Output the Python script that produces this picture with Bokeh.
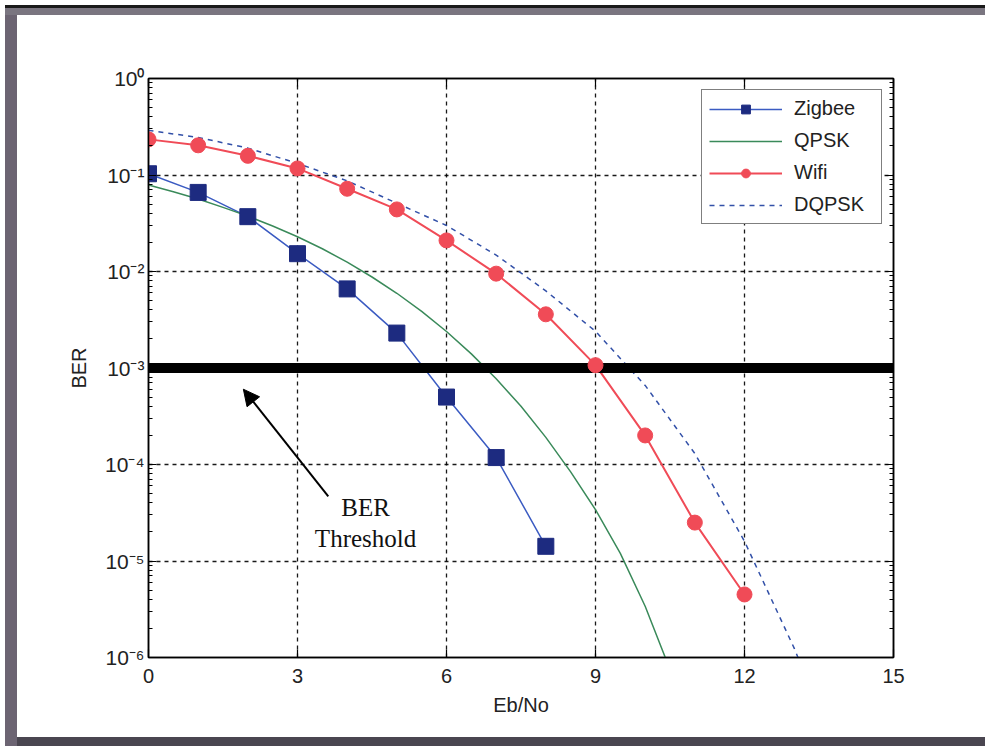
from bokeh.plotting import figure
from bokeh.models import (LogAxis, LinearAxis, FixedTicker, Arrow, NormalHead, Label,
                          CustomJSTickFormatter)
from bokeh.embed import file_html
from bokeh.resources import INLINE

# ---------------- data ----------------
zigbee_x = [0, 1, 2, 3, 4, 5, 6, 7, 8]
zigbee_ber = [0.103, 0.066, 0.037, 0.0153, 0.0066, 0.0023, 5.0e-4, 1.18e-4, 1.42e-5]

qpsk_x = [0, 0.5, 1, 1.5, 2, 2.5, 3, 3.5, 4, 4.5, 5, 5.5, 6, 6.5, 7, 7.5, 8, 8.5, 9, 9.5, 10, 10.5]
qpsk_ber = [0.0786, 0.0671, 0.0563, 0.0462, 0.0375, 0.0296, 0.0229, 0.0172, 0.0125, 0.00877,
            0.00595, 0.00386, 0.00239, 0.00140, 7.73e-4, 4.01e-4, 1.91e-4, 8.38e-5, 3.4e-5,
            1.2e-5, 3.4e-6, 7.5e-7]

wifi_x = [0, 1, 2, 3, 4, 5, 6, 7, 8, 9, 10, 11, 12]
wifi_ber = [0.234, 0.203, 0.158, 0.117, 0.072, 0.044, 0.021, 0.0095, 0.0036, 0.00107,
            2.0e-4, 2.5e-5, 4.5e-6]

dqpsk_x = [0, 1, 2, 3, 4, 5, 6, 7, 8, 9, 10, 11, 12, 13, 13.2]
dqpsk_ber = [0.29, 0.245, 0.19, 0.132, 0.087, 0.051, 0.030, 0.0148, 0.0063, 0.0024,
             6.6e-4, 1.3e-4, 1.6e-5, 1.25e-6, 7.0e-7]

threshold_x = [0, 15]
threshold_ber = [1e-3, 1e-3]

x_ticks = [0, 3, 6, 9, 12, 15]
y_ticks = [1e-6, 1e-5, 1e-4, 1e-3, 1e-2, 1e-1, 1]
y_minor = [m * d for d in [1e-6, 1e-5, 1e-4, 1e-3, 1e-2, 1e-1] for m in range(2, 10)]

series_names = ["Zigbee", "QPSK", "Wifi", "DQPSK"]
x_label = "Eb/No"
y_label = "BER"
note_lines = ["BER", "Threshold"]

# annotation anchors (data coordinates)
arrow_from = (3.62, 10 ** -4.33)
arrow_to = (1.91, 10 ** -3.22)
note_x = 4.37
note_y = [10 ** -4.45, 10 ** -4.77]

# ---------------- styling ----------------
FONT = "Liberation Sans"
SIZE = "20px"
ZIG_LINE = "#3b5bc2"
ZIG_MARK = "#1d2b80"
QPSK_C = "#3a8a5a"
WIFI_C = "#f04b57"
DQPSK_C = "#3250a8"

frame_bg = ", ".join([
    "linear-gradient(#1a1a1a, #1a1a1a) 5px 5px / 980px 3px no-repeat",
    "linear-gradient(#7a7580, #7a7580) 5px 8px / 980px 7px no-repeat",
    "linear-gradient(#6c6472, #6c6472) 5px 5px / 12px 741px no-repeat",
    "linear-gradient(#4a4650, #4a4650) 5px 737px / 980px 9px no-repeat",
    "#ffffff",
])

p = figure(width=985, height=748, x_range=(0, 15), y_range=(1e-6, 1),
           y_axis_type="log", output_backend="svg", toolbar_location=None,
           min_border_left=148, min_border_right=92, min_border_top=78,
           min_border_bottom=91, styles={"background": frame_bg})
p.background_fill_color = "white"
p.border_fill_alpha = 0.0
p.outline_line_color = "black"
p.outline_line_width = 1.5

sup_code = """
const e = Math.round(Math.log10(tick));
const m = {'-':'\u207b','0':'\u2070','1':'\u00b9','2':'\u00b2','3':'\u00b3','4':'\u2074',
           '5':'\u2075','6':'\u2076','7':'\u2077','8':'\u2078','9':'\u2079'};
return '10' + String(e).split('').map(c => m[c]).join('');
"""

xt = FixedTicker(ticks=x_ticks, minor_ticks=[])
yt = FixedTicker(ticks=y_ticks, minor_ticks=y_minor)

for ax in p.xaxis:
    ax.ticker = xt
for ax in p.yaxis:
    ax.ticker = yt
    ax.formatter = CustomJSTickFormatter(code=sup_code)

def style_axis(ax, major_in, minor_in):
    ax.axis_line_color = "black"
    ax.axis_line_width = 1.5
    ax.major_tick_line_color = "black"
    ax.major_tick_line_width = 1.2
    ax.minor_tick_line_color = "black"
    ax.minor_tick_line_width = 1.0
    ax.major_tick_in = major_in
    ax.major_tick_out = 0
    ax.minor_tick_in = minor_in
    ax.minor_tick_out = 0
    ax.major_label_text_font = FONT
    ax.major_label_text_font_size = SIZE
    ax.major_label_text_color = "#222222"
    ax.axis_label_text_font = FONT
    ax.axis_label_text_font_size = SIZE
    ax.axis_label_text_font_style = "normal"
    ax.axis_label_text_color = "#222222"

style_axis(p.xaxis[0], 8, 0)
style_axis(p.yaxis[0], 8, 4)
p.xaxis[0].axis_label = x_label
p.xaxis[0].major_label_standoff = 11
p.xaxis[0].axis_label_standoff = 8
p.yaxis[0].axis_label = y_label
p.yaxis[0].major_label_standoff = 4
p.yaxis[0].major_label_text_font_size = "21px"
p.yaxis[0].axis_label_standoff = 12

blank = CustomJSTickFormatter(code="return '';")
right_ax = LogAxis(ticker=yt, formatter=blank)
style_axis(right_ax, 8, 4)
p.add_layout(right_ax, "right")
top_ax = LinearAxis(ticker=xt, formatter=blank)
style_axis(top_ax, 8, 0)
p.add_layout(top_ax, "above")

# grid
p.xgrid.ticker = xt
p.ygrid.ticker = FixedTicker(ticks=y_ticks, minor_ticks=[])
for g in (p.xgrid[0], p.ygrid[0]):
    g.grid_line_color = "black"
    g.grid_line_dash = "4 4"
    g.grid_line_width = 1.3
    g.grid_line_alpha = 0.9

# curves
p.line(zigbee_x, zigbee_ber, line_color=ZIG_LINE, line_width=1.5, legend_label=series_names[0])
p.line(qpsk_x, qpsk_ber, line_color=QPSK_C, line_width=1.5, legend_label=series_names[1])
p.line(wifi_x, wifi_ber, line_color=WIFI_C, line_width=2, legend_label=series_names[2])
p.line(dqpsk_x, dqpsk_ber, line_color=DQPSK_C, line_width=1.5, line_dash="5 5",
       legend_label=series_names[3])

p.line(threshold_x, threshold_ber, line_color="black", line_width=10)

p.scatter(zigbee_x, zigbee_ber, marker="square", size=16, fill_color=ZIG_MARK,
          line_color=ZIG_MARK, legend_label=series_names[0])
p.scatter(wifi_x, wifi_ber, marker="circle", size=15, fill_color=WIFI_C,
          line_color=WIFI_C, legend_label=series_names[2])

# arrow and note
p.add_layout(Arrow(end=NormalHead(size=16, fill_color="black", line_color="black"),
                   x_start=arrow_from[0], y_start=arrow_from[1],
                   x_end=arrow_to[0], y_end=arrow_to[1],
                   line_color="black", line_width=2))
for txt, yy in zip(note_lines, note_y):
    p.add_layout(Label(x=note_x, y=yy, text=txt, text_font="Liberation Serif",
                       text_font_size="25px", text_align="center",
                       text_baseline="middle", text_color="#111111"))

# legend
lg = p.legend[0]
lg.location = "top_right"
lg.margin = 11
lg.padding = 7
lg.spacing = 9
lg.glyph_width = 73
lg.glyph_height = 22
lg.label_standoff = 12
lg.label_width = 80
lg.label_text_font = FONT
lg.label_text_font_size = SIZE
lg.label_text_color = "#222222"
lg.border_line_color = "black"
lg.border_line_width = 1.5
lg.background_fill_color = "white"
lg.background_fill_alpha = 1.0

open("out.html", "w").write(file_html(p, INLINE))
